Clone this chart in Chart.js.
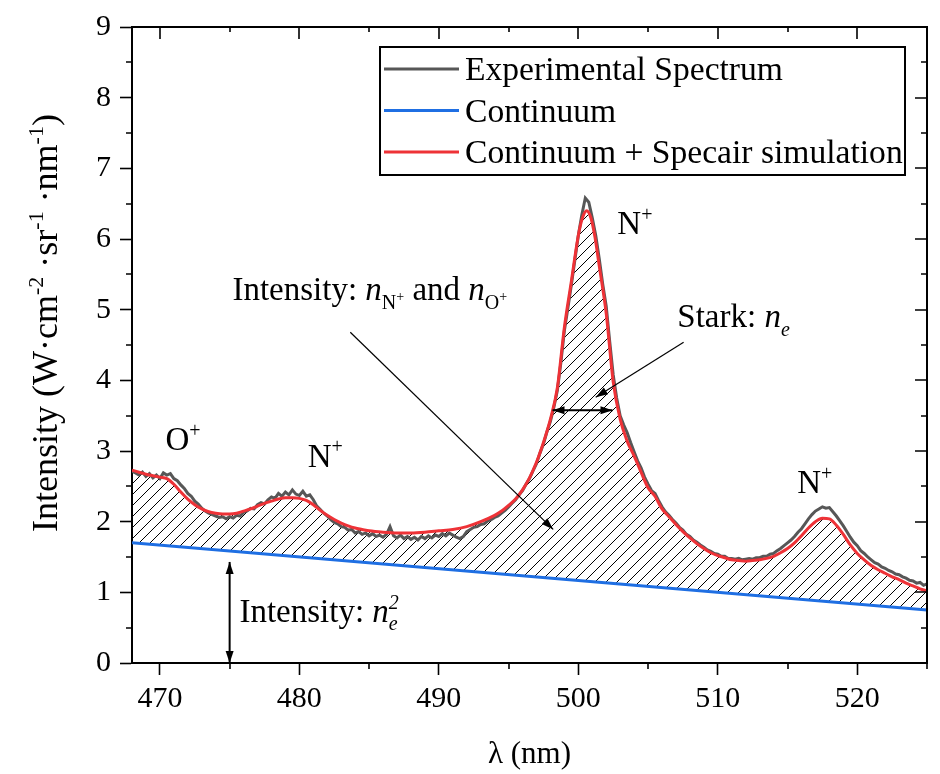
<!DOCTYPE html>
<html>
<head>
<meta charset="utf-8">
<title>Emission spectrum with continuum and Specair fit</title>
<script src="https://cdn.jsdelivr.net/npm/chart.js@4"></script>
<style>
  html, body { margin: 0; padding: 0; background: #fff; }
  canvas { display: block; }
</style>
</head>
<body>
<canvas id="spectrumChart" width="940" height="774"></canvas>
<script>
// --- Measured spectrum (nm, W·cm-2·sr-1·nm-1) ---
const expWavelength = [
  468, 468.25, 468.5, 468.75, 469, 469.25, 469.5, 469.75, 470, 470.25, 470.5, 470.75, 471, 471.25, 471.5, 471.75,
  472, 472.25, 472.5, 472.75, 473, 473.25, 473.5, 473.75, 474, 474.25, 474.5, 474.75, 475, 475.25, 475.5, 475.75,
  476, 476.25, 476.5, 476.75, 477, 477.25, 477.5, 477.75, 478, 478.25, 478.5, 478.75, 479, 479.25, 479.5, 479.75,
  480, 480.25, 480.5, 480.75, 481, 481.25, 481.5, 481.75, 482, 482.25, 482.5, 482.75, 483, 483.25, 483.5, 483.75,
  484, 484.25, 484.5, 484.75, 485, 485.25, 485.5, 485.75, 486, 486.25, 486.5, 486.75, 487, 487.25, 487.5, 487.75,
  488, 488.25, 488.5, 488.75, 489, 489.25, 489.5, 489.75, 490, 490.25, 490.5, 490.75, 491, 491.25, 491.5, 491.75,
  492, 492.25, 492.5, 492.75, 493, 493.25, 493.5, 493.75, 494, 494.25, 494.5, 494.75, 495, 495.25, 495.5, 495.75,
  496, 496.25, 496.5, 496.75, 497, 497.25, 497.5, 497.75, 498, 498.25, 498.5, 498.75, 499, 499.25, 499.5, 499.75,
  500, 500.25, 500.5, 500.75, 501, 501.25, 501.5, 501.75, 502, 502.25, 502.5, 502.75, 503, 503.25, 503.5, 503.75,
  504, 504.25, 504.5, 504.75, 505, 505.25, 505.5, 505.75, 506, 506.25, 506.5, 506.75, 507, 507.25, 507.5, 507.75,
  508, 508.25, 508.5, 508.75, 509, 509.25, 509.5, 509.75, 510, 510.25, 510.5, 510.75, 511, 511.25, 511.5, 511.75,
  512, 512.25, 512.5, 512.75, 513, 513.25, 513.5, 513.75, 514, 514.25, 514.5, 514.75, 515, 515.25, 515.5, 515.75,
  516, 516.25, 516.5, 516.75, 517, 517.25, 517.5, 517.75, 518, 518.25, 518.5, 518.75, 519, 519.25, 519.5, 519.75,
  520, 520.25, 520.5, 520.75, 521, 521.25, 521.5, 521.75, 522, 522.25, 522.5, 522.75, 523, 523.25, 523.5, 523.75,
  524, 524.25, 524.5, 524.75, 525
];
const expIntensity = [
  2.71, 2.69, 2.66, 2.70, 2.64, 2.68, 2.62, 2.66, 2.61, 2.69, 2.66, 2.68, 2.61, 2.58, 2.52, 2.47,
  2.40, 2.36, 2.29, 2.25, 2.19, 2.15, 2.12, 2.10, 2.08, 2.06, 2.07, 2.04, 2.07, 2.05, 2.09, 2.08,
  2.13, 2.15, 2.19, 2.18, 2.24, 2.27, 2.25, 2.31, 2.35, 2.33, 2.40, 2.36, 2.42, 2.38, 2.45, 2.39,
  2.37, 2.43, 2.36, 2.38, 2.31, 2.22, 2.17, 2.12, 2.08, 2.03, 1.99, 1.97, 1.93, 1.92, 1.88, 1.89,
  1.84, 1.86, 1.82, 1.84, 1.80, 1.83, 1.79, 1.81, 1.78, 1.82, 1.93, 1.80, 1.77, 1.81, 1.76, 1.79,
  1.75, 1.78, 1.74, 1.79, 1.76, 1.80, 1.77, 1.81, 1.79, 1.83, 1.80, 1.84, 1.81, 1.78, 1.76, 1.79,
  1.86, 1.89, 1.92, 1.93, 1.96, 1.97, 2.01, 2.03, 2.06, 2.08, 2.12, 2.16, 2.21, 2.26, 2.31, 2.38,
  2.44, 2.53, 2.61, 2.72, 2.82, 2.97, 3.10, 3.27, 3.42, 3.62, 3.86, 4.25, 4.70, 5.02, 5.35, 5.70,
  6.05, 6.34, 6.58, 6.52, 6.30, 6.05, 5.72, 5.36, 5.05, 4.55, 4.08, 3.75, 3.50, 3.37, 3.26, 3.12,
  2.99, 2.86, 2.76, 2.63, 2.53, 2.44, 2.40, 2.30, 2.21, 2.14, 2.09, 2.03, 1.98, 1.92, 1.88, 1.82,
  1.79, 1.74, 1.71, 1.67, 1.64, 1.60, 1.58, 1.55, 1.54, 1.51, 1.51, 1.48, 1.48, 1.47, 1.48, 1.46,
  1.47, 1.48, 1.47, 1.49, 1.49, 1.51, 1.51, 1.54, 1.55, 1.59, 1.62, 1.66, 1.70, 1.74, 1.79, 1.85,
  1.90, 1.97, 2.04, 2.10, 2.15, 2.18, 2.21, 2.19, 2.20, 2.14, 2.08, 2.01, 1.94, 1.86, 1.78, 1.71,
  1.66, 1.59, 1.55, 1.50, 1.46, 1.42, 1.40, 1.36, 1.34, 1.31, 1.29, 1.26, 1.25, 1.22, 1.20, 1.17,
  1.16, 1.13, 1.14, 1.10, 1.12
];

// --- Continuum + Specair simulation ---
const simWavelength = [
  468, 468.5, 469, 469.5, 470, 470.5, 471, 471.5, 472, 472.5, 473, 473.5, 474, 474.5, 475, 475.5, 476, 476.5,
  477, 477.5, 478, 478.5, 479, 479.5, 480, 480.5, 481, 481.5, 482, 482.5, 483, 483.5, 484, 484.5, 485,
  486, 487, 488, 489, 490, 491, 492, 493, 494,
  494.5, 495, 495.5, 496, 496.5, 497, 497.5, 498, 498.5, 499, 499.5, 500,
  500.3, 500.6, 500.9, 501.2, 501.5,
  502, 502.5, 503, 503.5, 504, 504.5, 505, 505.5, 506, 506.5, 507, 507.5, 508, 508.5, 509, 509.5, 510,
  510.5, 511, 511.5, 512, 512.5, 513, 513.5, 514, 514.5, 515, 515.5, 516, 516.5, 517, 517.5, 518, 518.5,
  519, 519.5, 520, 520.5, 521, 521.5, 522, 522.5, 523, 523.5, 524, 524.5, 525
];
const simIntensity = [
  2.73, 2.70, 2.67, 2.65, 2.63, 2.61, 2.53, 2.42, 2.32, 2.24, 2.18, 2.14, 2.12, 2.11, 2.11, 2.12, 2.15, 2.18,
  2.22, 2.26, 2.29, 2.32, 2.34, 2.34, 2.33, 2.30, 2.24, 2.16, 2.09, 2.03, 1.98, 1.94, 1.91, 1.89, 1.87,
  1.85, 1.84, 1.84, 1.85, 1.87, 1.89, 1.93, 2.00, 2.09,
  2.15, 2.23, 2.32, 2.45, 2.62, 2.84, 3.12, 3.45, 3.90, 4.75, 5.40, 6.05,
  6.30, 6.40, 6.30, 6.02, 5.62,
  4.95, 3.98, 3.45, 3.14, 2.93, 2.70, 2.48, 2.36, 2.18, 2.07, 1.96, 1.86, 1.77, 1.69, 1.62, 1.56, 1.52,
  1.49, 1.46, 1.45, 1.44, 1.45, 1.46, 1.48, 1.51, 1.56, 1.62, 1.70, 1.80, 1.91, 2.00, 2.05, 2.04, 1.95,
  1.82, 1.67, 1.55, 1.46, 1.38, 1.32, 1.27, 1.22, 1.18, 1.13, 1.09, 1.05, 1.02
];

// --- Continuum (straight line) ---
const contWavelength = [468, 525];
const contIntensity = [1.70, 0.75];

const seriesLabels = ['Experimental Spectrum', 'Continuum', 'Continuum + Specair simulation'];
const seriesColors = ['#575757', '#1f6fe3', '#ee3237'];

const SERIF = '"Liberation Serif", "Times New Roman", serif';

const toPoints = (xs, ys) => xs.map((x, i) => ({ x, y: ys[i] }));

// diagonal hatch used between the fit and the continuum
function makeHatch() {
  const s = 11;
  const c = document.createElement('canvas');
  c.width = s; c.height = s;
  const g = c.getContext('2d');
  g.strokeStyle = '#000';
  g.lineWidth = 1;
  g.beginPath();
  g.moveTo(0, s); g.lineTo(s, 0);
  g.moveTo(-2, 2); g.lineTo(2, -2);
  g.moveTo(s - 2, s + 2); g.lineTo(s + 2, s - 2);
  g.stroke();
  return g.createPattern(c, 'repeat');
}

// draws a run list (plain / italic / sub / sup pieces) and returns its width
function drawRuns(ctx, x, y, runs, size, measureOnly) {
  let cx = x;
  for (const r of runs) {
    const s = Math.round(size * (r.scale || 1));
    ctx.font = (r.italic ? 'italic ' : '') + s + 'px ' + SERIF;
    if (!measureOnly) ctx.fillText(r.text, cx, y + (r.dy || 0) * size);
    if (!r.stack) cx += ctx.measureText(r.text).width;
  }
  return cx - x;
}

const sub = (text, italic) => ({ text, italic, scale: 0.62, dy: 0.25 });
const sup = (text, italic, stack) => ({ text, italic, scale: 0.62, dy: -0.4, stack });
const tiny = (text) => ({ text, scale: 0.42, dy: 0.02 });

// labels anchored in data units (left edge, baseline)
const textNotes = [
  { x: 470.4, y: 3.01, runs: [{ text: 'O' }, sup('+')] },
  { x: 480.6, y: 2.78, runs: [{ text: 'N' }, sup('+')] },
  { x: 502.8, y: 6.07, runs: [{ text: 'N' }, sup('+')] },
  { x: 515.7, y: 2.40, runs: [{ text: 'N' }, sup('+')] },
  { x: 475.2, y: 5.13, runs: [{ text: 'Intensity: ' }, { text: 'n', italic: true }, sub('N'), tiny('+'),
      { text: ' and ' }, { text: 'n', italic: true }, sub('O'), tiny('+')] },
  { x: 507.1, y: 4.75, runs: [{ text: 'Stark: ' }, { text: 'n', italic: true }, sub('e', true)] },
  { x: 475.7, y: 0.58, runs: [{ text: 'Intensity: ' }, { text: 'n', italic: true }, sup('2', true, true), sub('e', true)] }
];

// arrows: [x0, y0, x1, y1, line width, heads at both ends]
const arrowNotes = [
  [483.65, 4.68, 498.2, 1.89, 1.2, false],
  [507.55, 4.54, 501.25, 3.76, 1.2, false],
  [498.15, 3.575, 502.45, 3.575, 2, true],
  [475.0, 1.43, 475.0, 0.0, 2, true]
];

function arrowHead(ctx, x0, y0, x1, y1) {
  const a = Math.atan2(y1 - y0, x1 - x0);
  const len = 12, half = 4;
  ctx.beginPath();
  ctx.moveTo(x1, y1);
  ctx.lineTo(x1 - len * Math.cos(a) + half * Math.sin(a), y1 - len * Math.sin(a) - half * Math.cos(a));
  ctx.lineTo(x1 - len * Math.cos(a) - half * Math.sin(a), y1 - len * Math.sin(a) + half * Math.cos(a));
  ctx.closePath();
  ctx.fill();
}

const decorations = {
  id: 'decorations',
  afterDraw(chart) {
    const { ctx, chartArea: a, scales: { x, y } } = chart;
    ctx.save();
    ctx.strokeStyle = '#000';
    ctx.fillStyle = '#000';
    ctx.lineWidth = 2;

    // top and right frame
    ctx.beginPath();
    ctx.moveTo(a.left, a.top);
    ctx.lineTo(a.right, a.top);
    ctx.lineTo(a.right, a.bottom);
    ctx.stroke();

    // mirrored (inward) ticks and short minor ticks
    ctx.lineWidth = 1.6;
    ctx.beginPath();
    x.ticks.forEach(t => {
      const px = Math.round(x.getPixelForValue(t.value));
      const major = t.value % 10 === 0;
      ctx.moveTo(px, a.top); ctx.lineTo(px, a.top + (major ? 12 : 5));
      if (!major) { ctx.moveTo(px, a.bottom); ctx.lineTo(px, a.bottom + 6); }
    });
    y.ticks.forEach(t => {
      const py = Math.round(y.getPixelForValue(t.value));
      const major = Number.isInteger(t.value);
      ctx.moveTo(a.right, py); ctx.lineTo(a.right - (major ? 12 : 6), py);
      if (!major) { ctx.moveTo(a.left, py); ctx.lineTo(a.left - 6, py); }
    });
    ctx.stroke();

    // arrows
    arrowNotes.forEach(([x0, y0, x1, y1, w, both]) => {
      const p0 = [x.getPixelForValue(x0), y.getPixelForValue(y0)];
      const p1 = [x.getPixelForValue(x1), y.getPixelForValue(y1)];
      ctx.lineWidth = w;
      ctx.beginPath();
      ctx.moveTo(p0[0], p0[1]);
      ctx.lineTo(p1[0], p1[1]);
      ctx.stroke();
      arrowHead(ctx, p0[0], p0[1], p1[0], p1[1]);
      if (both) arrowHead(ctx, p1[0], p1[1], p0[0], p0[1]);
    });

    // annotations
    ctx.textBaseline = 'alphabetic';
    ctx.textAlign = 'left';
    textNotes.forEach(n => {
      drawRuns(ctx, x.getPixelForValue(n.x), y.getPixelForValue(n.y), n.runs, 33);
    });

    // y axis title with superscripts
    const yTitle = [{ text: 'Intensity (W·cm' }, sup('-2'), { text: ' ·sr' }, sup('-1'),
      { text: ' ·nm' }, sup('-1'), { text: ')' }];
    const w = drawRuns(ctx, 0, 0, yTitle, 36, true);
    ctx.save();
    ctx.translate(57, (a.top + a.bottom) / 2 - 22);
    ctx.rotate(-Math.PI / 2);
    drawRuns(ctx, -w / 2, 0, yTitle, 36);
    ctx.restore();

    // legend box
    const bx = a.right - 547, by = a.top + 20, bw = 525, bh = 128;
    ctx.fillStyle = '#fff';
    ctx.fillRect(bx, by, bw, bh);
    ctx.lineWidth = 2;
    ctx.strokeStyle = '#000';
    ctx.strokeRect(bx, by, bw, bh);
    chart.data.datasets.forEach((ds, i) => {
      const ry = by + 22 + i * 41.5;
      ctx.strokeStyle = ds.borderColor;
      ctx.lineWidth = 3;
      ctx.beginPath();
      ctx.moveTo(bx + 4, ry);
      ctx.lineTo(bx + 79, ry);
      ctx.stroke();
      ctx.fillStyle = '#000';
      ctx.font = '33.6px ' + SERIF;
      ctx.fillText(ds.label, bx + 85, ry + 11);
    });
    ctx.restore();
  }
};

const ctx = document.getElementById('spectrumChart').getContext('2d');
new Chart(ctx, {
  type: 'line',
  data: {
    datasets: [
      {
        label: seriesLabels[0],
        data: toPoints(expWavelength, expIntensity),
        borderColor: seriesColors[0],
        borderWidth: 3,
        pointRadius: 0,
        tension: 0,
        fill: false,
        order: 3
      },
      {
        label: seriesLabels[1],
        data: toPoints(contWavelength, contIntensity),
        borderColor: seriesColors[1],
        borderWidth: 3,
        pointRadius: 0,
        fill: false,
        order: 2
      },
      {
        label: seriesLabels[2],
        data: toPoints(simWavelength, simIntensity),
        borderColor: seriesColors[2],
        borderWidth: 3,
        pointRadius: 0,
        cubicInterpolationMode: 'monotone',
        fill: { target: 1 },
        backgroundColor: makeHatch(),
        order: 1
      }
    ]
  },
  options: {
    responsive: false,
    animation: false,
    devicePixelRatio: 1,
    layout: { padding: { left: 0, top: 21, right: 13, bottom: 0 } },
    plugins: {
      legend: { display: false },
      tooltip: { enabled: false },
      filler: { drawTime: 'beforeDatasetsDraw' }
    },
    scales: {
      x: {
        type: 'linear',
        min: 468,
        max: 525,
        afterFit: s => { s.height = 111; },
        border: { color: '#000', width: 2 },
        grid: {
          drawOnChartArea: false,
          tickLength: 12,
          tickWidth: 1.6,
          tickColor: c => (c.tick && c.tick.value % 10 === 0 ? '#000' : 'rgba(0,0,0,0)')
        },
        ticks: {
          stepSize: 5,
          includeBounds: false,
          autoSkip: false,
          maxRotation: 0,
          padding: 6,
          color: '#000',
          font: { family: SERIF, size: 30 },
          callback: v => (v % 10 === 0 ? v : '')
        },
        title: {
          display: true,
          text: 'λ (nm)',
          color: '#000',
          font: { family: SERIF, size: 31 },
          padding: { top: 0, bottom: 1 }
        }
      },
      y: {
        min: 0,
        max: 9,
        afterFit: s => { s.width = 132; },
        border: { color: '#000', width: 2 },
        grid: {
          drawOnChartArea: false,
          tickLength: 12,
          tickWidth: 1.6,
          tickColor: c => (c.tick && Number.isInteger(c.tick.value) ? '#000' : 'rgba(0,0,0,0)')
        },
        ticks: {
          stepSize: 0.5,
          includeBounds: false,
          autoSkip: false,
          padding: 9,
          color: '#000',
          font: { family: SERIF, size: 30 },
          callback: v => (Number.isInteger(v) ? v : '')
        }
      }
    }
  },
  plugins: [decorations]
});
</script>
</body>
</html>
